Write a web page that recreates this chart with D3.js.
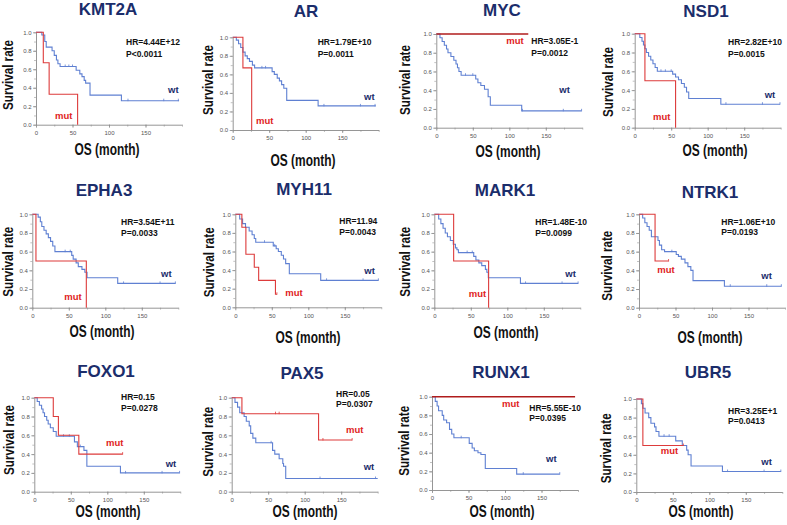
<!DOCTYPE html>
<html><head><meta charset="utf-8">
<script src="https://cdn.jsdelivr.net/npm/d3@7"></script>
<style>body{margin:0;background:#fff}svg{display:block}</style>
</head><body><svg id="c" width="787" height="525"></svg>
<script>
// ---------- DATA ----------
const genes = ["KMT2A","AR","MYC","NSD1","EPHA3","MYH11","MARK1","NTRK1","FOXO1","PAX5","RUNX1","UBR5"];
const hrLabels = ["HR=4.44E+12","HR=1.79E+10","HR=3.05E-1","HR=2.82E+10","HR=3.54E+11","HR=11.94","HR=1.48E-10","HR=1.06E+10","HR=0.15","HR=0.05","HR=5.55E-10","HR=3.25E+1"];
const pLabels = ["P<0.0011","P=0.0011","P=0.0012","P=0.0015","P=0.0033","P=0.0043","P=0.0099","P=0.0193","P=0.0278","P=0.0307","P=0.0395","P=0.0413"];
const xTicks = [0,50,100,150];
const yTicks = [0,0.2,0.4,0.6,0.8,1.0];
const xLabel = "OS (month)";
const yLabel = "Survival rate";

// step curves: [month, survival from this month on]
const wtKMT2A = [[0,1],[8,0.97],[12,0.9],[14,0.84],[22,0.8],[25,0.75],[28,0.7],[30,0.66],[33,0.63],[55,0.59],[60,0.55],[63,0.52],[66,0.48],[68,0.45],[74,0.32],[117,0.26],[196,0.26]];
const mutKMT2A = [[0,1],[10,0.67],[18,0.33],[57,0]];
const wtAR = [[0,1],[5,0.97],[8,0.93],[11,0.89],[14,0.84],[17,0.8],[20,0.77],[23,0.74],[27,0.7],[30,0.67],[54,0.63],[57,0.6],[61,0.56],[64,0.53],[67,0.49],[70,0.45],[74,0.32],[117,0.26],[196,0.26]];
const mutAR = [[0,1],[14,0.67],[26,0]];
const wtMYC = [[0,1],[5,0.96],[8,0.92],[11,0.88],[14,0.84],[16,0.8],[20,0.76],[24,0.72],[27,0.68],[29,0.64],[31,0.6],[34,0.56],[54,0.52],[57,0.48],[61,0.45],[66,0.41],[71,0.33],[74,0.24],[117,0.18],[199,0.18]];
const mutMYC = [[0,1],[126,1]];
const wtNSD1 = [[0,1],[7,0.96],[10,0.92],[12,0.88],[14,0.84],[16,0.8],[19,0.76],[22,0.72],[25,0.68],[28,0.64],[31,0.6],[52,0.57],[56,0.54],[60,0.51],[64,0.47],[68,0.43],[71,0.38],[74,0.31],[118,0.25],[199,0.25]];
const mutNSD1 = [[0,1],[14,0.5],[56,0]];
const wtEPHA3 = [[0,1],[8,0.97],[11,0.92],[13,0.87],[16,0.83],[19,0.79],[22,0.75],[25,0.71],[28,0.66],[31,0.6],[54,0.56],[56,0.52],[60,0.48],[63,0.44],[68,0.41],[72,0.38],[75,0.32],[117,0.26],[196,0.26]];
const mutEPHA3 = [[0,1],[5,0.5],[74,0]];
const wtMYH11 = [[0,1],[6,0.95],[10,0.9],[14,0.86],[19,0.82],[23,0.78],[26,0.74],[28,0.7],[52,0.66],[56,0.63],[59,0.6],[63,0.56],[66,0.52],[69,0.47],[74,0.36],[117,0.29],[196,0.29]];
const mutMYH11 = [[0,1],[9,0.86],[14.5,0.57],[26,0.43],[32,0.29],[55,0.14],[57,0.14]];
const wtMARK1 = [[0,1],[6,0.95],[9,0.9],[12,0.85],[15,0.8],[18,0.76],[22,0.72],[26,0.68],[29,0.64],[31,0.62],[33,0.59],[54,0.55],[57,0.51],[61,0.48],[65,0.45],[70,0.41],[72,0.38],[74,0.32],[118,0.26],[197,0.26]];
const mutMARK1 = [[0,1],[26.5,0.5],[74.4,0]];
const wtNTRK1 = [[0,1],[5,0.96],[8,0.91],[11,0.87],[14,0.83],[17,0.76],[26,0.72],[28,0.67],[31,0.62],[35,0.6],[51,0.57],[54,0.55],[58,0.52],[63,0.48],[67,0.44],[71,0.4],[74,0.29],[117,0.23],[195,0.23]];
const mutNTRK1 = [[0,1],[22,0.5],[40.5,0.5]];
const wtFOXO1 = [[0,1],[4,0.96],[7,0.92],[10,0.88],[12,0.84],[14,0.8],[17,0.76],[19,0.72],[22,0.68],[26,0.64],[30,0.59],[55,0.53],[59,0.48],[68,0.44],[72,0.27],[118,0.2],[199,0.2]];
const mutFOXO1 = [[0,1],[26,0.8],[33,0.6],[61,0.4],[121,0.4]];
const wtPAX5 = [[0,1],[4.5,0.95],[8,0.9],[11,0.84],[17,0.8],[20,0.75],[24,0.7],[26,0.62],[29,0.57],[33,0.52],[56,0.44],[59,0.4],[65,0.35],[70,0.3],[71,0.27],[74,0.14],[200,0.14]];
const mutPAX5 = [[0,1],[14,0.83],[119,0.55],[165,0.55]];
const wtRUNX1 = [[0,1],[4.5,0.95],[7,0.9],[9,0.85],[14,0.8],[16,0.75],[20,0.72],[24,0.65],[27,0.6],[30,0.56],[51,0.5],[55,0.45],[58,0.42],[63,0.4],[67,0.38],[73,0.23],[116,0.17],[175,0.17]];
const mutRUNX1 = [[0,1],[196,1]];
const wtUBR5 = [[0,1],[7,0.95],[9,0.9],[12,0.85],[17,0.8],[20,0.74],[25,0.7],[27,0.65],[31,0.6],[54,0.55],[63,0.5],[69,0.45],[71,0.4],[75,0.28],[118,0.22],[198,0.22]];
const mutUBR5 = [[0,1],[9,0.5],[64.5,0.5]];

// censored observations (months)
const wtCensor = [[40,45,50,126,175,195],[40,45,125,175,195],[40,50,118,174,199],[36,42,50,125,175,199],[45,52,125,175,196],[40,54,125,175,196],[45,52,125,175,197],[45,125,175,195],[40,48,63,125,175,199],[54,121,197],[40,125,175],[38,45,125,175,198]];
const mutCensor = [[],[],[],[],[],[57],[],[40.5],[121],[60,65,125,165],[],[64.5]];

const wtSeries = [wtKMT2A,wtAR,wtMYC,wtNSD1,wtEPHA3,wtMYH11,wtMARK1,wtNTRK1,wtFOXO1,wtPAX5,wtRUNX1,wtUBR5];
const mutSeries = [mutKMT2A,mutAR,mutMYC,mutNSD1,mutEPHA3,mutMYH11,mutMARK1,mutNTRK1,mutFOXO1,mutPAX5,mutRUNX1,mutUBR5];

// ---------- LAYOUT ----------
const L = [
 {x0:36,yT:32.3,yB:124.7,t:[108,15],hr:[126,45,57],mut:[55,119],wt:[168,93],yl:[13,75],xl:[107,155]},
 {x0:232.7,yT:37.3,yB:130,t:[306,16.7],hr:[317.7,45,57],mut:[256,124],wt:[364,100],yl:[212.7,80],xl:[303,166]},
 {x0:436.3,yT:34,yB:127.7,t:[502,16],hr:[531.3,44,56],mut:[506.3,44],wt:[559.3,93],yl:[410.3,80],xl:[508,157]},
 {x0:634.7,yT:33.7,yB:127.7,t:[706,16.7],hr:[728,45,57],mut:[653,120],wt:[764.7,98],yl:[613,82],xl:[715,156]},
 {x0:32.3,yT:214.3,yB:307.7,t:[104,195.7],hr:[121,225,236],mut:[64.3,300],wt:[161,276.7],yl:[12.5,261.7],xl:[102,337]},
 {x0:235.3,yT:214.3,yB:307.3,t:[304,195],hr:[339.3,224,235],mut:[285.3,295.7],wt:[364.3,274],yl:[213.7,262.3],xl:[308,343]},
 {x0:434.3,yT:214.3,yB:307.7,t:[505,195.7],hr:[535.3,225,236],mut:[468.7,297.3],wt:[565.3,276.7],yl:[410.3,261.7],xl:[506,338]},
 {x0:639,yT:214.3,yB:307.7,t:[710,197.7],hr:[721.3,225,235],mut:[657.3,272.7],wt:[761.3,279.3],yl:[612.3,265.7],xl:[710,343]},
 {x0:34.3,yT:397.7,yB:491.7,t:[106,377.3],hr:[121,400,411],mut:[106,446],wt:[165.7,466.7],yl:[13.5,440],xl:[108,517]},
 {x0:231.7,yT:397.7,yB:491.7,t:[302,379.3],hr:[336,396.7,407],mut:[346,432.7],wt:[363.7,470],yl:[212.7,441.7],xl:[305,517]},
 {x0:432,yT:396.7,yB:490,t:[501,378.3],hr:[529.3,410.7,420.7],mut:[502,407.3],wt:[546,462.3],yl:[408.7,440.8],xl:[502,517]},
 {x0:636.3,yT:399,yB:492,t:[708,378.3],hr:[728,414,424],mut:[660.7,454.3],wt:[761.3,465],yl:[611.3,448.3],xl:[701,517]}
];
const plotW = 146;
const FONT = "'Liberation Sans', Arial, Helvetica, sans-serif";
const WT_COLOR = "#5f80d2", MUT_COLOR = "#dd3b3b", MUT_TOP = "#b01c1c";
const NAVY = "#1b2d6b";

const svg = d3.select("#c").attr("font-family", FONT);

function stepValue(series, t){
  let v = series[0][1];
  for (const p of series){ if (p[0] <= t) v = p[1]; }
  return v;
}

genes.forEach((g, i) => {
  const lay = L[i];
  const x = d3.scaleLinear().domain([0,200]).range([lay.x0, lay.x0 + plotW]);
  const y = d3.scaleLinear().domain([0,1]).range([lay.yB, lay.yT]);
  const gp = svg.append("g");

  // minor ticks
  const minorY = d3.range(0, 1.001, 0.1);
  gp.append("g").attr("transform",`translate(${lay.x0},0)`)
    .call(d3.axisLeft(y).tickValues(minorY).tickSize(2).tickFormat("").tickSizeOuter(0))
    .call(a => a.selectAll("line").attr("stroke","#999").attr("stroke-width",0.6))
    .call(a => a.select(".domain").remove());
  gp.append("g").attr("transform",`translate(0,${lay.yB})`)
    .call(d3.axisBottom(x).tickValues(d3.range(0,201,25)).tickSize(2).tickFormat("").tickSizeOuter(0))
    .call(a => a.selectAll("line").attr("stroke","#999").attr("stroke-width",0.6))
    .call(a => a.select(".domain").remove());

  // major axes
  const ya = gp.append("g").attr("transform",`translate(${lay.x0},0)`)
    .call(d3.axisLeft(y).tickValues(yTicks).tickFormat(d3.format(".1f")).tickSize(3).tickPadding(1.5).tickSizeOuter(0));
  const xa = gp.append("g").attr("transform",`translate(0,${lay.yB})`)
    .call(d3.axisBottom(x).tickValues(xTicks).tickSize(3).tickPadding(3).tickSizeOuter(0));
  [ya, xa].forEach(a => {
    a.select(".domain").attr("stroke","#8a8a8a").attr("stroke-width",0.9);
    a.selectAll(".tick line").attr("stroke","#8a8a8a").attr("stroke-width",0.8);
    a.selectAll(".tick text").attr("font-size",6).attr("fill","#555").attr("font-family",FONT);
  });

  const line = d3.line().x(d => x(d[0])).y(d => y(d[1])).curve(d3.curveStepAfter);

  // wt curve
  gp.append("path").datum(wtSeries[i]).attr("d", line)
    .attr("fill","none").attr("stroke",WT_COLOR).attr("stroke-width",1.1);
  gp.selectAll(".cw").data(wtCensor[i]).enter().append("line")
    .attr("x1", d => x(d)).attr("x2", d => x(d))
    .attr("y1", d => y(stepValue(wtSeries[i], d)) - 2)
    .attr("y2", d => y(stepValue(wtSeries[i], d)) + 0.5)
    .attr("stroke",WT_COLOR).attr("stroke-width",0.8);

  // mut curve
  const allTop = mutSeries[i].every(p => p[1] === 1);
  const mc = allTop ? MUT_TOP : MUT_COLOR;
  gp.append("path").datum(mutSeries[i]).attr("d", line)
    .attr("fill","none").attr("stroke",mc).attr("stroke-width",allTop ? 1.4 : 1.1);
  gp.selectAll(".cm").data(mutCensor[i]).enter().append("line")
    .attr("x1", d => x(d)).attr("x2", d => x(d))
    .attr("y1", d => y(stepValue(mutSeries[i], d)) - 2)
    .attr("y2", d => y(stepValue(mutSeries[i], d)) + 0.5)
    .attr("stroke",mc).attr("stroke-width",0.8);

  // title
  gp.append("text").attr("x",lay.t[0]).attr("y",lay.t[1]).attr("text-anchor","middle")
    .attr("font-size",17).attr("font-weight","bold").attr("fill",NAVY).text(g);

  // HR / P
  gp.append("text").attr("x",lay.hr[0]).attr("y",lay.hr[1]).attr("font-size",8.5)
    .attr("font-weight","bold").attr("fill","#111").text(hrLabels[i]);
  gp.append("text").attr("x",lay.hr[0]).attr("y",lay.hr[2]).attr("font-size",8.5)
    .attr("font-weight","bold").attr("fill","#111").text(pLabels[i]);

  // group labels
  gp.append("text").attr("x",lay.mut[0]).attr("y",lay.mut[1]).attr("font-size",9.5)
    .attr("font-weight","bold").attr("fill","#e02222").text("mut");
  gp.append("text").attr("x",lay.wt[0]).attr("y",lay.wt[1]).attr("font-size",9.5)
    .attr("font-weight","bold").attr("fill",NAVY).text("wt");

  // axis titles
  gp.append("text").attr("transform",`translate(${lay.yl[0]},${lay.yl[1]}) rotate(-90)`)
    .attr("text-anchor","middle").attr("font-size",15).attr("font-weight","bold").attr("fill","#111")
    .attr("textLength",70).attr("lengthAdjust","spacingAndGlyphs").text(yLabel);
  gp.append("text").attr("x",lay.xl[0]).attr("y",lay.xl[1]).attr("text-anchor","middle")
    .attr("font-size",17).attr("font-weight","bold").attr("fill","#111")
    .attr("textLength",65).attr("lengthAdjust","spacingAndGlyphs").text(xLabel);
});
</script></body></html>
